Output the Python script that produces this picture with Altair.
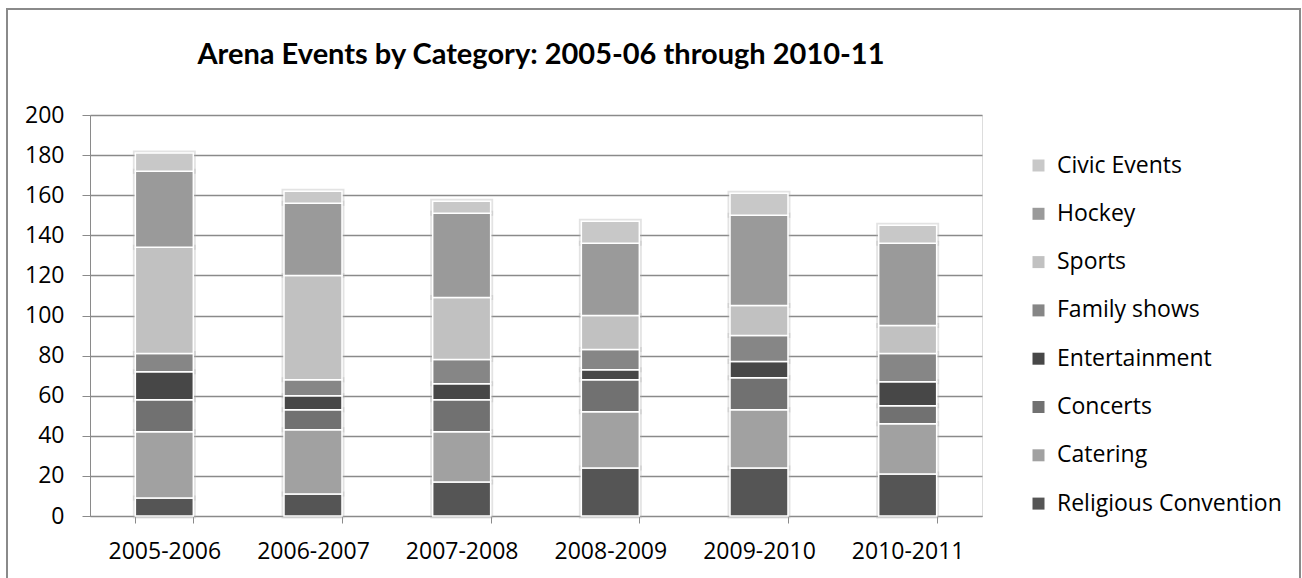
import altair as alt
import pandas as pd

seasons = ["2005-2006", "2006-2007", "2007-2008", "2008-2009", "2009-2010", "2010-2011"]
categories = ["Religious Convention", "Catering", "Concerts", "Entertainment",
              "Family shows", "Sports", "Hockey", "Civic Events"]
religious = [9, 11, 17, 24, 24, 21]
catering = [33, 32, 25, 28, 29, 25]
concerts = [16, 10, 16, 16, 16, 9]
entertainment = [14, 7, 8, 5, 8, 12]
family = [9, 8, 12, 10, 13, 14]
sports = [53, 52, 31, 17, 15, 14]
hockey = [38, 36, 42, 36, 45, 41]
civic = [9, 6, 6, 11, 11, 9]
colors = ["#555555", "#a1a1a1", "#717171", "#474747", "#868686", "#c1c1c1", "#9a9a9a", "#c8c8c8"]
title_text = "Arena Events by Category: 2005-06 through 2010-11"

series = [religious, catering, concerts, entertainment, family, sports, hockey, civic]
rows = []
for ci, (cat, vals) in enumerate(zip(categories, series)):
    for s, v in zip(seasons, vals):
        rows.append({"Season": s, "Category": cat, "Events": v, "idx": ci})
df = pd.DataFrame(rows)

legend_order = categories[::-1]
legend_colors = colors[::-1]

FONT = "Open Sans"

x_enc = alt.X("Season:N", sort=seasons, title=None,
              scale=alt.Scale(paddingInner=0.61, paddingOuter=0.305),
              axis=alt.Axis(labelAngle=0, tickBand="extent", tickSize=7, labelPadding=17,
                            domainColor="#8a8a8a", tickColor="#8a8a8a", grid=False,
                            labelFontSize=23, labelFont=FONT, labelColor="black"))
y_enc = alt.Y("Events:Q", stack="zero", title=None,
              scale=alt.Scale(domain=[0, 200]),
              axis=alt.Axis(values=list(range(0, 201, 20)), tickSize=8, labelPadding=18,
                            gridColor="#8a8a8a", gridWidth=1.3, domainColor="#8a8a8a",
                            tickColor="#8a8a8a", labelFontSize=23, labelFont=FONT,
                            labelColor="black"))
order_enc = alt.Order("idx:Q", sort="ascending")

shadow = alt.Chart(df).mark_bar(fill="white", stroke="#b0b0b0", strokeOpacity=0.35,
                                strokeWidth=5).encode(
    x=x_enc, y=y_enc, order=order_enc, detail="Category:N"
)

bars = alt.Chart(df).mark_bar(stroke="white", strokeWidth=1.5).encode(
    x=x_enc, y=y_enc,
    color=alt.Color("Category:N",
                    scale=alt.Scale(domain=legend_order, range=legend_colors),
                    legend=alt.Legend(title=None, orient="none", legendX=937, legendY=39,
                                      symbolType="square", symbolSize=144,
                                      symbolStrokeWidth=0, labelFontSize=23,
                                      labelFont=FONT, labelColor="black",
                                      labelOffset=7, rowPadding=24.3, labelLimit=400)),
    order=order_enc,
)

one = alt.Data(values=[{"t": title_text}])

frame = alt.Chart(one).mark_rect(
    fill=None, stroke="#8a8a8a", strokeWidth=2
).encode(x=alt.value(-83), x2=alt.value(1210), y=alt.value(-106), y2=alt.value(475))

title = alt.Chart(one).mark_text(
    font="Lato", fontSize=29, fontWeight="bold", color="black",
    align="center", baseline="alphabetic"
).encode(text="t:N", x=alt.value(451), y=alt.value(-51))

chart = alt.layer(frame, shadow, bars, title).properties(
    width=892, height=401,
    autosize=alt.AutoSizeParams(type="none"),
    padding={"left": 90, "top": 115, "right": 320, "bottom": 62},
).configure_view(strokeWidth=0, stroke="transparent").configure(background="white")

chart.save("out.html", embed_options={"renderer": "svg", "actions": False})
